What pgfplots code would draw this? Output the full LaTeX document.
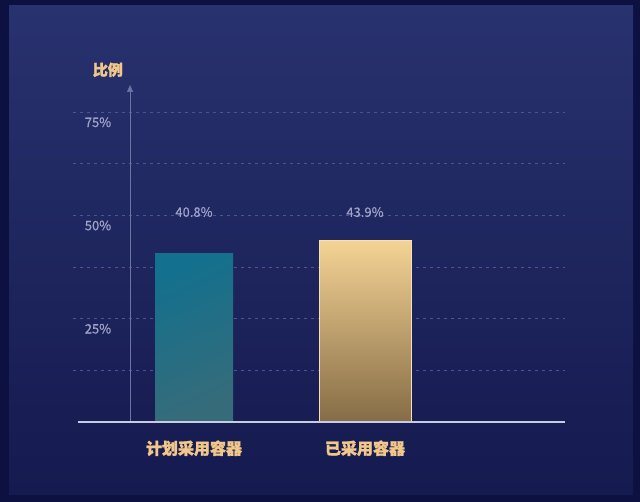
\documentclass[border=0pt]{standalone}
\usepackage{pgfplots}
\pgfplotsset{compat=1.18}
\usepackage{fontspec}
\setmainfont{Noto Sans CJK SC}
\newfontfamily\heavy{Noto Sans CJK SC}[BoldFeatures={FakeBold=1.5}]
\newfontfamily\medfont{Noto Sans CJK SC}[FakeBold=0.6]
\usetikzlibrary{arrows.meta}
\definecolor{outerbg}{HTML}{0C1142}
\definecolor{paneltop}{HTML}{28326E}
\definecolor{panelbot}{HTML}{151A4F}
\definecolor{gridc}{HTML}{4B5592}
\definecolor{tickc}{HTML}{9FA3C9}
\definecolor{goldtxt}{HTML}{F2C88A}
\definecolor{tealA}{HTML}{13708E}
\definecolor{tealB}{HTML}{366C7A}
\definecolor{goldA}{HTML}{F4D395}
\definecolor{goldB}{HTML}{866C46}
\definecolor{xaxisc}{HTML}{C8CCE2}
\definecolor{yaxisc}{HTML}{6C74A4}
\begin{document}
\begin{tikzpicture}[x=1pt,y=1pt]
\useasboundingbox (0,0) rectangle (640,502);
\fill[outerbg] (0,0) rectangle (640,502);
\shade[top color=paneltop, bottom color=panelbot] (9,7) rectangle (633,496);
\begin{axis}[
  at={(73pt,80pt)}, anchor=south west,
  scale only axis, width=492pt, height=337pt,
  xmin=-0.7076, xmax=2.1696,
  ymin=0, ymax=81.6,
  axis line style={draw=none},
  ybar,
  xtick={0,1},
  xticklabels={计划采用容器,已采用容器},
  major tick length=0pt,
  xticklabel style={font=\fontsize{16}{18}\selectfont\heavy\bfseries, text=goldtxt, yshift=-15pt},
  ytick={12.5,25,37.5,50,62.5,75},
  yticklabels={,25\%,,50\%,,75\%},
  yticklabel style={font=\fontsize{13}{15}\selectfont\medfont, text=tickc, anchor=center, xshift=25pt, yshift=-10pt},
  ymajorgrids,
  grid style={gridc, dash pattern=on 3pt off 4pt, line width=0.8pt},
  every axis y label/.style={at={(axis description cs:0.071,1.045)}, anchor=center},
  ylabel={\fontsize{15}{17}\selectfont\heavy\bfseries\color{goldtxt}比例},
  /pgf/number format/assume math mode=true,
  clip=false,
]
\addplot[bar width=78pt, bar shift=0pt, draw=none,
  top color=tealA, bottom color=tealB, shading angle=25,
  nodes near coords={\pgfmathprintnumber[fixed,precision=1,zerofill]{\pgfplotspointmeta}\%},
  every node near coord/.append style={font=\fontsize{13}{15}\selectfont\medfont, text=tickc, yshift=33pt}]
  coordinates {(0,40.8)};
\addplot[bar width=92pt, bar shift=0pt, draw=goldA!70!white, line width=0.6pt,
  top color=goldA, bottom color=goldB,
  nodes near coords={\pgfmathprintnumber[fixed,precision=1,zerofill]{\pgfplotspointmeta}\%},
  every node near coord/.append style={font=\fontsize{13}{15}\selectfont\medfont, text=tickc, yshift=20pt}]
  coordinates {(1,43.9)};
\draw[yaxisc, line width=0.7pt, -{Triangle[length=7pt,width=6pt]}] (axis cs:-0.374,0) -- (axis cs:-0.374,81.6);
\draw[xaxisc, line width=1.4pt] (axis cs:-0.678,0) -- (axis cs:2.1696,0);
\end{axis}
\end{tikzpicture}
\end{document}
